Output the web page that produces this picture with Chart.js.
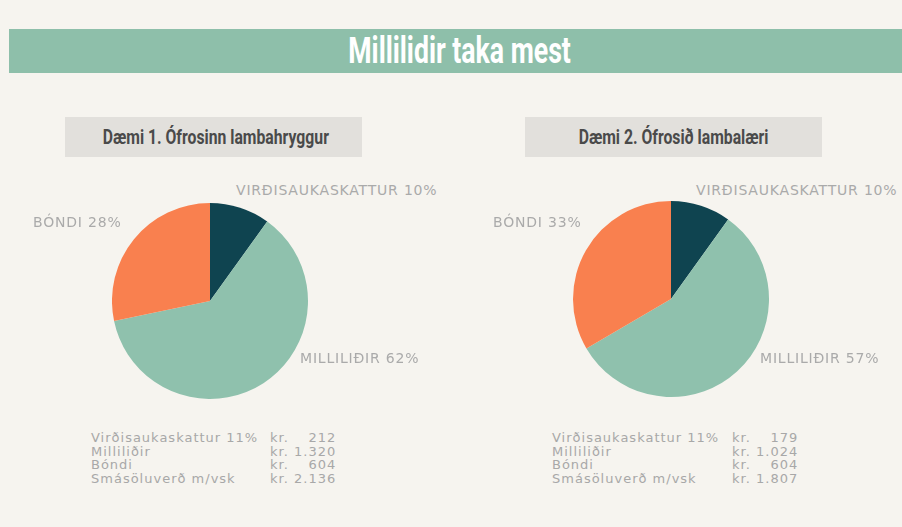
<!DOCTYPE html>
<html>
<head>
<meta charset="utf-8">
<script src="https://cdn.jsdelivr.net/npm/chart.js@4"></script>
<style>
  html, body { margin: 0; padding: 0; }
  body { width: 902px; height: 527px; background: #f6f4ef; position: relative; overflow: hidden; font-family: 'DejaVu Sans', sans-serif; }
  .band { position: absolute; left: 9px; right: 0; top: 29px; height: 44px; background: #8ebfaa; text-align: center; }
  .band span { display: inline-block; margin-left: 9px; color: #fff; font: bold 37px Roboto, sans-serif; line-height: 44px; transform: scaleX(0.72); white-space: nowrap; }
  .sub { position: absolute; top: 117px; width: 297px; height: 40px; background: #e2e0dc; text-align: center; white-space: nowrap; }
  .sub span { display: inline-block; color: #4a4a4a; font: bold 21px Roboto, sans-serif; line-height: 40px; transform: scaleX(0.75); }
  .pie { position: absolute; width: 196px; height: 196px; }
  .lbl { position: absolute; color: #aaaaaa; font-size: 14px; letter-spacing: 0.8px; white-space: nowrap; }
  .tbl { position: absolute; color: #a8a8a8; font-size: 13px; letter-spacing: 1px; line-height: 13.5px; border-collapse: collapse; }
  .tbl td { padding: 0; white-space: nowrap; }
  .tbl td.v { text-align: right; }
</style>
</head>
<body>
<div class="band"><span>Millilidir taka mest</span></div>

<div class="sub" style="left:65px"><span>Dæmi 1. Ófrosinn lambahryggur</span></div>
<div class="sub" style="left:525px"><span>Dæmi 2. Ófrosið lambalæri</span></div>

<div class="pie" style="left:112px; top:203px"><canvas id="pie1"></canvas></div>
<div class="pie" style="left:573px; top:201px"><canvas id="pie2"></canvas></div>

<div id="labels"></div>
<table class="tbl" id="tbl1" style="left:91px; top:431px"></table>
<table class="tbl" id="tbl2" style="left:552px; top:431px"></table>

<script>
// slices, clockwise from 12 o'clock
const sliceNames = ['VIRÐISAUKASKATTUR', 'MILLILIÐIR', 'BÓNDI'];
const rowNames = ['Virðisaukaskattur 11%', 'Milliliðir', 'Bóndi'];
const totalName = 'Smásöluverð m/vsk';
const sliceColors = ['#0f4450', '#8fc1ad', '#f9804f'];

// kr. per example
const lambahryggur = [212, 1320, 604];
const lambalaeri = [179, 1024, 604];

// label anchor spots (left, top) per pie: vsk, milliliðir, bóndi
const labelSpots1 = [[236, 182], [300, 350], [33, 214]];
const labelSpots2 = [[696, 182], [760, 350], [493, 214]];

function fmt(n) {
    return n.toString().replace(/\B(?=(\d{3})+(?!\d))/g, '.');
}

function makePie(id, values) {
    new Chart(document.getElementById(id), {
        type: 'pie',
        data: {
            labels: sliceNames,
            datasets: [{
                data: values,
                backgroundColor: sliceColors,
                borderWidth: 0,
            }]
        },
        options: {
            responsive: true,
            maintainAspectRatio: false,
            animation: false,
            layout: { padding: 0 },
            plugins: { legend: { display: false }, tooltip: { enabled: false } }
        }
    });
}

function addLabels(values, spots) {
    const total = values.reduce((a, b) => a + b, 0);
    const box = document.getElementById('labels');
    values.forEach((v, i) => {
        const d = document.createElement('div');
        d.className = 'lbl';
        d.style.left = spots[i][0] + 'px';
        d.style.top = spots[i][1] + 'px';
        d.textContent = sliceNames[i] + ' ' + Math.round(v / total * 100) + '%';
        box.appendChild(d);
    });
}

function fillTable(id, values, w) {
    const total = values.reduce((a, b) => a + b, 0);
    const rows = rowNames.map((n, i) => [n, values[i]]).concat([[totalName, total]]);
    document.getElementById(id).innerHTML = rows.map(r =>
        `<tr><td style="width:${w}px">${r[0]}</td><td style="width:24px">kr.</td><td class="v" style="width:39px">${fmt(r[1])}</td></tr>`
    ).join('');
}

makePie('pie1', lambahryggur);
makePie('pie2', lambalaeri);
addLabels(lambahryggur, labelSpots1);
addLabels(lambalaeri, labelSpots2);
fillTable('tbl1', lambahryggur, 179);
fillTable('tbl2', lambalaeri, 180);
</script>
</body>
</html>
